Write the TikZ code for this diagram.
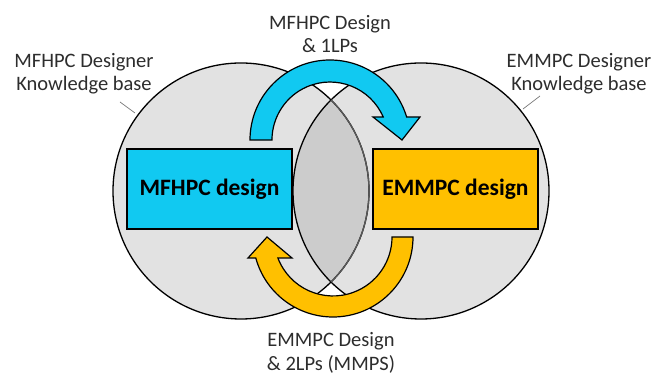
\documentclass[tikz,border=0pt]{standalone}
\usepackage{fontspec}
\setmainfont{Carlito}
\begin{document}
\begin{tikzpicture}[x=1pt,y=1pt,
  every node/.style={inner sep=0pt, outer sep=0pt},
  kbase/.style={circle, minimum size=256pt, fill=circgray},
  outline/.style={draw=black, line width=1.3pt},
  designbox/.style={draw=black, line width=1.4pt, minimum width=165pt, minimum height=80pt, font=\fontsize{23.5}{27}\selectfont\bfseries},
  lbl/.style={align=center, text=labelgray, font=\fontsize{20.5}{23.5}\selectfont},
  leader/.style={draw=leadergray, line width=0.7pt},
  flowarrow/.style={draw=black, line width=1.2pt, line join=miter}]
\definecolor{circgray}{RGB}{226,226,226}
\definecolor{lensgray}{RGB}{204,204,204}
\definecolor{labelgray}{RGB}{45,45,45}
\definecolor{leadergray}{RGB}{120,120,120}
\definecolor{myblue}{RGB}{17,201,241}
\definecolor{myorange}{RGB}{255,192,0}
\useasboundingbox (0,0) rectangle (651,374);
% knowledge bases
\node[kbase] (lc) at (241,183) {};
\node[kbase] (rc) at (421,183) {};
\begin{scope}
  \clip (241,183) circle (128);
  \fill[lensgray] (421,183) circle (128);
\end{scope}
\draw[outline] (241,183) circle (128);
\draw[outline] (421,183) circle (128);
\begin{scope}
  \clip (421,183) circle (128);
  \draw[draw=black!65, line width=1.3pt] (241,183) circle (128);
\end{scope}
% labels
\node[lbl] (lkb) at (84,300.5) {MFHPC Designer\\Knowledge base};
\node[lbl] (rkb) at (579,300.5) {EMMPC Designer\\Knowledge base};
\node[lbl] (top) at (330,340) {MFHPC Design\\\& 1LPs};
\node[lbl] (bot) at (331,21) {EMMPC Design\\\& 2LPs (MMPS)};
\coordinate (la) at (120,272);
\coordinate (lb) at (135,261);
\coordinate (ra) at (540,278);
\coordinate (rb) at (523,265);
\draw[leader] (la) -- (lb);
\draw[leader] (ra) -- (rb);
% design boxes
\node[designbox, fill=myblue] (mf) at (209.5,185) {MFHPC design};
\node[designbox, fill=myorange] (em) at (455.5,185) {EMMPC design};
% curved arrows
\draw[flowarrow, fill=myblue]
  (250,234) arc[start angle=180, end angle=16.7, radius=80]
  -- (420,257) -- (402,234) -- (373,257) -- (383.2,257)
  arc[start angle=23.4, end angle=180, radius=58] -- cycle;
\draw[flowarrow, fill=myorange]
  (413,137) arc[start angle=0, end angle=-164.8, radius=80]
  -- (248,116) -- (267,137) -- (292,116) -- (277.9,116)
  arc[start angle=-159.1, end angle=0, radius=59] -- cycle;
\end{tikzpicture}
\end{document}
